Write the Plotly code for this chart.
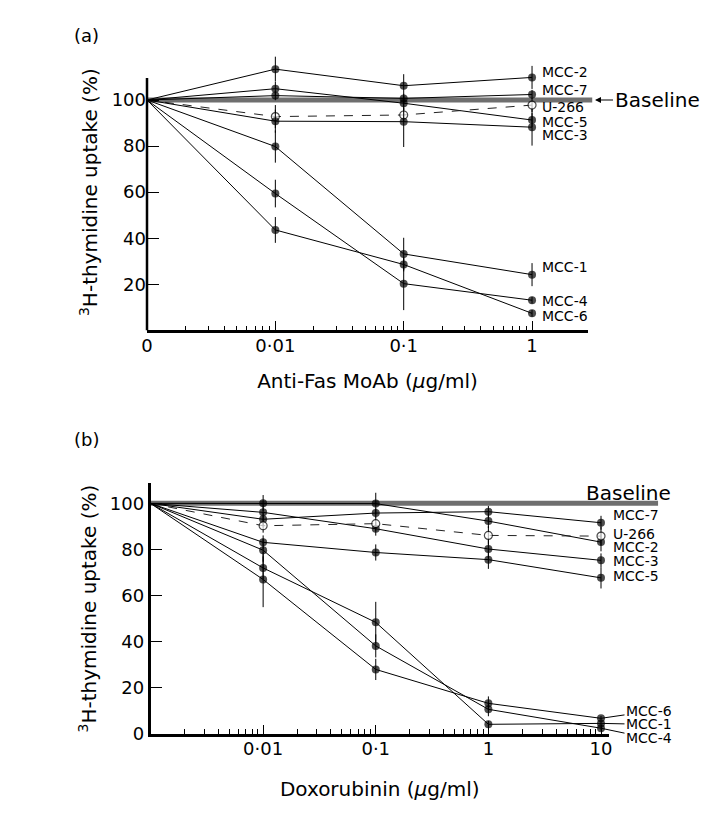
import plotly.graph_objects as go

# ---------------- data ----------------
# the "0" (no antibody / no drug) control is placed one decade below the lowest dose
dose_a = [0.001, 0.01, 0.1, 1]
dose_a_ticks = [0.001, 0.01, 0.1, 1]
dose_a_ticktext = ["0", "0·01", "0·1", "1"]

a_mcc2 = [100, 113.4, 106.2, 109.8]
a_mcc2_err = [0, 5.4, 5, 5]
a_mcc7 = [100, 101.9, 100.7, 102.4]
a_mcc7_err = [0, 2, 2, 2]
a_mcc5 = [100, 104.9, 98.6, 91.3]
a_mcc5_err = [0, 3, 3, 3]
a_u266 = [100, 92.8, 93.5, 97.8]
a_u266_err = [0, 5, 3, 3]
a_mcc3 = [100, 90.8, 90.6, 88.2]
a_mcc3_err = [0, 5, 11, 8]
a_mcc1 = [100, 79.8, 33.2, 24.2]
a_mcc1_err = [0, 7, 7, 5]
a_mcc4 = [100, 59.4, 20.3, 13.1]
a_mcc4_err = [0, 6, 11.5, 1.5]
a_mcc6 = [100, 43.6, 28.6, 7.4]
a_mcc6_err = [0, 5.6, 3, 1.5]

dose_b = [0.001, 0.01, 0.1, 1, 10]
dose_b_ticks = [0.01, 0.1, 1, 10]
dose_b_ticktext = ["0·01", "0·1", "1", "10"]

b_mcc2 = [100, 100.1, 99.9, 92.3, 83.2]
b_mcc2_err = [0, 3.5, 4.7, 3, 4]
b_mcc7 = [100, 93.1, 95.8, 96.4, 91.6]
b_mcc7_err = [0, 3, 2, 2.5, 3]
b_mcc3 = [100, 96.1, 89.0, 80.2, 75.3]
b_mcc3_err = [0, 3, 3, 4, 3]
b_u266 = [100, 90.3, 91.2, 86.1, 85.8]
b_u266_err = [0, 3, 3, 4, 4]
b_mcc5 = [100, 83.1, 78.7, 75.6, 67.7]
b_mcc5_err = [0, 3, 3.5, 4, 4.6]
b_mcc1 = [100, 72.0, 48.4, 4.2, 4.6]
b_mcc1_err = [0, 5, 8.9, 1.5, 1]
b_mcc4 = [100, 79.7, 38.2, 10.7, 2.5]
b_mcc4_err = [0, 5, 5, 3, 1]
b_mcc6 = [100, 67.0, 28.0, 13.3, 6.8]
b_mcc6_err = [0, 12, 4.6, 3, 1]

baseline_value = 100

panel_a = [
    ("MCC-2", a_mcc2, a_mcc2_err, False),
    ("MCC-7", a_mcc7, a_mcc7_err, False),
    ("MCC-5", a_mcc5, a_mcc5_err, False),
    ("U-266", a_u266, a_u266_err, True),
    ("MCC-3", a_mcc3, a_mcc3_err, False),
    ("MCC-1", a_mcc1, a_mcc1_err, False),
    ("MCC-4", a_mcc4, a_mcc4_err, False),
    ("MCC-6", a_mcc6, a_mcc6_err, False),
]
panel_b = [
    ("MCC-2", b_mcc2, b_mcc2_err, False),
    ("MCC-7", b_mcc7, b_mcc7_err, False),
    ("MCC-3", b_mcc3, b_mcc3_err, False),
    ("U-266", b_u266, b_u266_err, True),
    ("MCC-5", b_mcc5, b_mcc5_err, False),
    ("MCC-1", b_mcc1, b_mcc1_err, False),
    ("MCC-4", b_mcc4, b_mcc4_err, False),
    ("MCC-6", b_mcc6, b_mcc6_err, False),
]

# label placement (style only)
labels_a = {"MCC-2": 112, "MCC-7": 104.3, "U-266": 96.9, "MCC-5": 90.4, "MCC-3": 84.8,
            "MCC-1": 27.4, "MCC-4": 12.9, "MCC-6": 6.3}
labels_b = {"MCC-7": 95.0, "U-266": 86.7, "MCC-2": 81.2, "MCC-3": 74.9, "MCC-5": 68.6}
leader_b = {"MCC-6": (48, -7), "MCC-1": (48, 1), "MCC-4": (48, 10)}

FONT = "DejaVu Sans"
LBL = 14

# page layout: the browser body adds an 8 px margin on every side
OFF = 8
W, H = 726 - OFF, 822 - 2 * OFF


def fx(px):
    return (px - OFF) / W


def fy(py):
    return 1 - (py - OFF) / H


fig = go.Figure()


def add_series(data, xs, xa, ya):
    for name, ys, err, open_marker in data:
        sizes = [0] + [8] * (len(xs) - 1)
        fig.add_trace(go.Scatter(
            x=xs, y=ys, name=name, xaxis=xa, yaxis=ya, mode="lines+markers",
            line=dict(color="#222" if open_marker else "black", width=1,
                      dash="dash" if open_marker else "solid"),
            marker=dict(size=sizes, color="white" if open_marker else "black",
                        line=dict(color="black", width=1.2 if open_marker else 0)),
            error_y=dict(type="data", array=err, visible=True, color="black",
                         thickness=1, width=0),
            showlegend=False, cliponaxis=False,
        ))


add_series(panel_a, dose_a, "x", "y")
add_series(panel_b, dose_b, "x2", "y2")

# panel (a): visible y axis line stops at ~109.5 % while data above it remain visible
fig.add_shape(type="line", xref="x domain", yref="y", x0=0, x1=0, y0=0, y1=109.5,
              line=dict(color="black", width=2.5))
# baselines
fig.add_shape(type="line", xref="x domain", yref="y", x0=0, x1=1.0096,
              y0=baseline_value, y1=baseline_value, line=dict(color="#6f6f6f", width=5),
              layer="below")
fig.add_shape(type="line", xref="x2 domain", yref="y2", x0=0, x1=1.107,
              y0=baseline_value, y1=baseline_value, line=dict(color="#6f6f6f", width=5),
              layer="below")
# right page border (dark strip at the right edge of the scanned page)
fig.add_shape(type="line", xref="paper", yref="paper", x0=fx(723), x1=fx(723), y0=-0.02,
              y1=1.02, line=dict(color="black", width=5))

ann = []
for name, yv in labels_a.items():
    ann.append(dict(x=0, xref="x", y=yv, yref="y", text=name, showarrow=False,
                    xanchor="left", yanchor="middle", xshift=8,
                    font=dict(family=FONT, size=LBL, color="black")))
for name, yv in labels_b.items():
    ann.append(dict(x=1, xref="x2", y=yv, yref="y2", text=name, showarrow=False,
                    xanchor="left", yanchor="middle", xshift=10,
                    font=dict(family=FONT, size=LBL, color="black")))
for name, ys, err, o in panel_b:
    if name in leader_b:
        ax, ay = leader_b[name]
        ann.append(dict(x=1, xref="x2", y=ys[-1], yref="y2", text=name, showarrow=True,
                        arrowhead=0, arrowwidth=1, arrowcolor="black", ax=ax, ay=ay,
                        standoff=0, font=dict(family=FONT, size=LBL, color="black")))
# baseline labels
ann.append(dict(x=fx(595), xref="paper", y=baseline_value, yref="y", text="Baseline",
                showarrow=True, arrowhead=2, arrowsize=1, arrowwidth=1.2, arrowcolor="black",
                ax=62, ay=0, standoff=0, font=dict(family=FONT, size=20, color="black")))
ann.append(dict(x=1, xref="x2", y=104.7, yref="y2", text="Baseline", showarrow=False,
                xanchor="center", xshift=27,
                font=dict(family=FONT, size=20, color="black")))
# panel letters
ann.append(dict(x=fx(72), y=fy(35), xref="paper", yref="paper", text="(a)",
                showarrow=False, xanchor="left", yanchor="middle",
                font=dict(family=FONT, size=18, color="black")))
ann.append(dict(x=fx(72), y=fy(440), xref="paper", yref="paper", text="(b)",
                showarrow=False, xanchor="left", yanchor="middle",
                font=dict(family=FONT, size=18, color="black")))
fig.update_layout(annotations=ann)

ax_common = dict(showgrid=False, zeroline=False, showline=True, linecolor="black",
                 linewidth=2.5, ticks="inside", tickcolor="black", tickwidth=1,
                 automargin=False,
                 tickfont=dict(family=FONT, size=18, color="black"))
minor_a = [m * 10 ** e for e in (-3, -2, -1) for m in range(2, 10)]
minor_b = [m * 10 ** e for e in (-3, -2, -1, 0) for m in range(2, 10)]

# panel (a) y scale: 0 at 330.4 px, 2.304 px per %, range extended to 120 %
ya_top = 330.4 - 120 * 2.304

fig.update_layout(
    width=W, height=H, margin=dict(l=0, r=0, t=0, b=0),
    paper_bgcolor="white", plot_bgcolor="white",
    xaxis=dict(ax_common, type="log", domain=[fx(147), fx(588)], range=[-3, 0.436],
               tickvals=dose_a_ticks, ticktext=dose_a_ticktext, ticklen=10, anchor="y",
               ticklabelstandoff=-3,
               minor=dict(ticks="inside", ticklen=5, tickvals=minor_a, tickcolor="black",
                          tickwidth=1),
               title=dict(text="Anti-Fas MoAb (<i>μ</i>g/ml)", standoff=20,
                          font=dict(family=FONT, size=20, color="black"))),
    yaxis=dict(ax_common, showline=False, domain=[fy(330.4), fy(ya_top)],
               range=[0, 120],
               tickvals=[20, 40, 60, 80, 100], ticklen=12, anchor="x",
               title=dict(text="<sup>3</sup>H-thymidine uptake (%)", standoff=8,
                          font=dict(family=FONT, size=20, color="black"))),
    xaxis2=dict(ax_common, type="log", domain=[fx(150.5), fx(609)], range=[-3, 1.071],
                tickvals=dose_b_ticks, ticktext=dose_b_ticktext, ticklen=9, anchor="y2",
                ticklabelstandoff=-3,
                minor=dict(ticks="inside", ticklen=5, tickvals=minor_b, tickcolor="black",
                           tickwidth=1),
                title=dict(text="Doxorubinin (<i>μ</i>g/ml)", standoff=24,
                           font=dict(family=FONT, size=20, color="black"))),
    yaxis2=dict(ax_common, domain=[fy(734), fy(483.3)], range=[0, 108.7],
                tickvals=[0, 20, 40, 60, 80, 100], ticklen=12, anchor="x2",
                title=dict(text="<sup>3</sup>H-thymidine uptake (%)", standoff=8,
                           font=dict(family=FONT, size=20, color="black"))),
)

fig.write_html("out.html")
